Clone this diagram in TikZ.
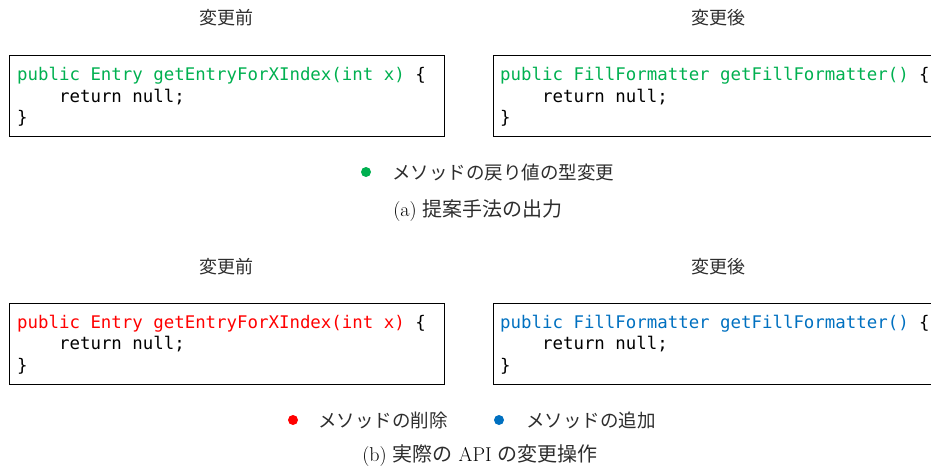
\documentclass[tikz,border=0pt]{standalone}
\usepackage{fontspec}
\newfontfamily\jpfont{Noto Sans CJK JP}
\newfontfamily\codefont{DejaVu Sans Mono}

\definecolor{addgreen}{RGB}{0,176,80}
\definecolor{delred}{RGB}{255,0,0}
\definecolor{addblue}{RGB}{0,112,192}
\definecolor{jptext}{RGB}{45,45,45}

\tikzset{
  codebox/.style={draw, line width=1pt, minimum width=435pt, minimum height=81pt,
    anchor=north west, inner sep=0pt},
  code/.style={anchor=base west, inner sep=0pt, font=\codefont\fontsize{17.4}{21}\selectfont},
  head/.style={inner sep=0pt, text=jptext, font=\jpfont\fontsize{18}{20}\selectfont},
  legend/.style={anchor=west, inner sep=0pt, text=jptext, font=\jpfont\fontsize{18.5}{20}\selectfont},
  dot/.style={circle, fill=#1, minimum size=10pt, inner sep=0pt},
  subcap/.style={inner sep=0pt, font=\fontsize{20}{22}\selectfont}
}

\begin{document}
\begin{tikzpicture}[x=1pt,y=-1pt]

\useasboundingbox (0,0) rectangle (931,468);
\clip (0,0) rectangle (931,468);

% (a) output of the method
\node[head] (beforeA) at (226,18) {変更前};
\node[head] (afterA) at (718,18) {変更後};

\node[codebox] (oldA) at (9,55) {};
\node[codebox, minimum width=460pt] (newA) at (493,55) {};

\node[code] at (17,81) {\textcolor{addgreen}{public Entry getEntryForXIndex(int x)} \{};
\node[code] at (17,102.5) {\hphantom{0000}return null;};
\node[code] at (17,124) {\}};

\node[code] at (500,81) {\textcolor{addgreen}{public FillFormatter getFillFormatter()} \{};
\node[code] at (500,102.5) {\hphantom{0000}return null;};
\node[code] at (500,124) {\}};

\node[dot=addgreen] (keyA) at (366,172) {};
\node[legend] (typeA) at (392,172) {メソッドの戻り値の型変更};

\node[subcap] (capA) at (478,211) {(a) {\jpfont\color{jptext}提案手法の出力}};

% (b) the actual API change
\node[head] (beforeB) at (226,267) {変更前};
\node[head] (afterB) at (718,267) {変更後};

\node[codebox] (oldB) at (9,303) {};
\node[codebox, minimum width=460pt] (newB) at (493,303) {};

\node[code] at (17,328) {\textcolor{delred}{public Entry getEntryForXIndex(int x)} \{};
\node[code] at (17,349.5) {\hphantom{0000}return null;};
\node[code] at (17,371) {\}};

\node[code] at (500,328) {\textcolor{addblue}{public FillFormatter getFillFormatter()} \{};
\node[code] at (500,349.5) {\hphantom{0000}return null;};
\node[code] at (500,371) {\}};

\node[dot=delred] (keyDel) at (293,420) {};
\node[legend] (removed) at (318,420) {メソッドの削除};
\node[dot=addblue] (keyAdd) at (499,420) {};
\node[legend] (added) at (526,420) {メソッドの追加};

\node[subcap] (capB) at (480,456) {(b) {\jpfont\color{jptext}実際の} API {\jpfont\color{jptext}の変更操作}};

\end{tikzpicture}
\end{document}
